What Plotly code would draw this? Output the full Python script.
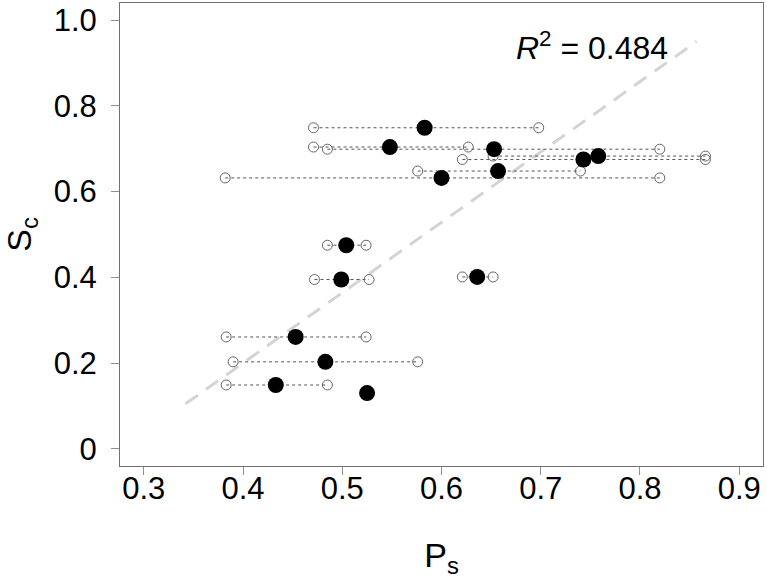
import plotly.graph_objects as go

# Filled points: P_s (x) and S_c (y)
ps_mean = [0.583, 0.548, 0.653, 0.743, 0.758, 0.657, 0.600, 0.504, 0.499, 0.636, 0.453, 0.483, 0.433, 0.525]
sc_vals = [0.749, 0.704, 0.699, 0.675, 0.683, 0.648, 0.632, 0.475, 0.395, 0.401, 0.261, 0.203, 0.149, 0.130]
# Range (open circles) for each point; None = no range shown
ps_low = [0.471, 0.471, 0.485, 0.621, 0.652, 0.576, 0.382, 0.485, 0.472, 0.621, 0.383, 0.390, 0.383, None]
ps_high = [0.698, 0.627, 0.820, 0.866, 0.866, 0.740, 0.820, 0.524, 0.527, 0.652, 0.524, 0.576, 0.485, None]

# Fitted regression line end points
fit_x = [0.342, 0.857]
fit_y = [0.105, 0.950]
r2_text = "<i>R</i><sup>2</sup> = 0.484"

x_ticks = [0.3, 0.4, 0.5, 0.6, 0.7, 0.8, 0.9]
x_ticktext = ["0.3", "0.4", "0.5", "0.6", "0.7", "0.8", "0.9"]
y_ticks = [0, 0.2, 0.4, 0.6, 0.8, 1.0]
y_ticktext = ["0", "0.2", "0.4", "0.6", "0.8", "1.0"]

FONT = "Liberation Sans, Arial, Helvetica, sans-serif"

fig = go.Figure()

# regression line
fig.add_trace(go.Scatter(x=fit_x, y=fit_y, mode="lines",
                         line=dict(color="#d4d4d4", width=3, dash="15px,10px"),
                         hoverinfo="skip", showlegend=False))

# dotted range lines
lx, ly, ox, oy = [], [], [], []
for lo, hi, yv in zip(ps_low, ps_high, sc_vals):
    if lo is None:
        continue
    lx += [lo, hi, None]
    ly += [yv, yv, None]
    ox += [lo, hi]
    oy += [yv, yv]
fig.add_trace(go.Scatter(x=lx, y=ly, mode="lines",
                         line=dict(color="#555555", width=1, dash="dot"),
                         hoverinfo="skip", showlegend=False))
fig.add_trace(go.Scatter(x=ox, y=oy, mode="markers",
                         marker=dict(symbol="circle-open", size=10,
                                     color="#666666", line=dict(width=1)),
                         showlegend=False))
# filled points
fig.add_trace(go.Scatter(x=ps_mean, y=sc_vals, mode="markers",
                         marker=dict(symbol="circle", size=16, color="black",
                                     line=dict(width=0)),
                         showlegend=False))

fig.add_annotation(x=0.673, y=0.94, xref="x", yref="y", text=r2_text,
                   showarrow=False, xanchor="left", yanchor="middle",
                   font=dict(family=FONT, size=32, color="black"))

axis_common = dict(showline=True, linecolor="#707070", linewidth=1, mirror=True,
                   ticks="outside", ticklen=8, tickcolor="#909090", tickwidth=1,
                   showgrid=False, zeroline=False,
                   tickfont=dict(family=FONT, size=31, color="black"))

fig.update_xaxes(range=[0.276, 0.924], tickvals=x_ticks, ticktext=x_ticktext,
                 ticklabelstandoff=-13,
                 title=dict(text="P<sub>s</sub>", font=dict(family=FONT, size=34, color="black"),
                            standoff=39),
                 **axis_common)
fig.update_yaxes(range=[-0.04, 1.04], tickvals=y_ticks, ticktext=y_ticktext,
                 ticklabelstandoff=8,
                 title=dict(text="S<sub>c</sub>", font=dict(family=FONT, size=34, color="black"),
                            standoff=12),
                 **axis_common)

fig.update_layout(width=767, height=579,
                  margin=dict(l=120, r=4, t=3, b=113, autoexpand=False),
                  plot_bgcolor="white", paper_bgcolor="white",
                  showlegend=False)

fig.write_html("out.html", config={"displayModeBar": False},
               post_script="document.body.style.margin='0px';document.body.style.padding='0px';")
